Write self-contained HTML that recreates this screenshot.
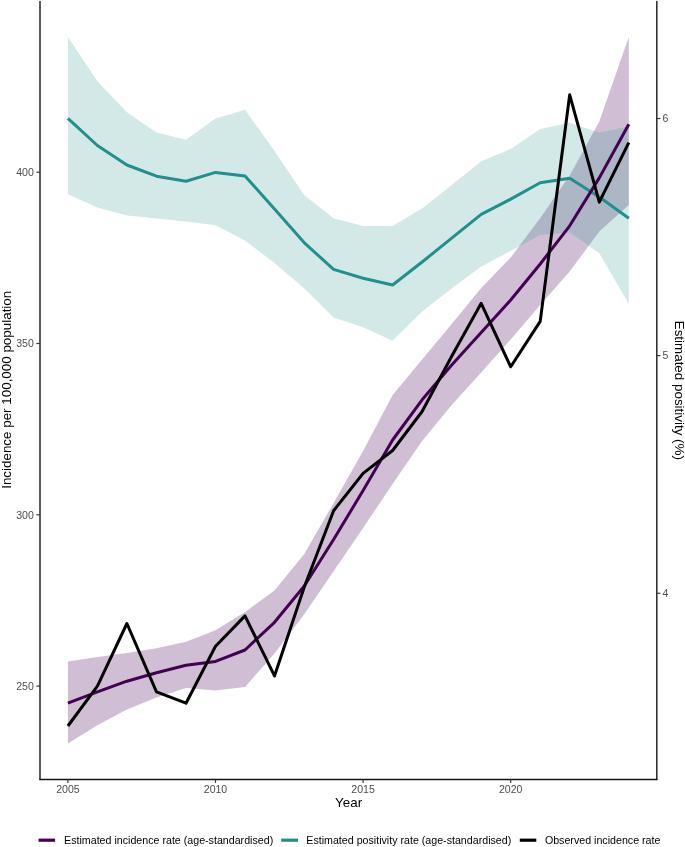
<!DOCTYPE html>
<html><head><meta charset="utf-8"><style>
html,body{margin:0;padding:0;background:#fff;}
body{width:685px;height:847px;overflow:hidden;}
svg{display:block;will-change:transform;}
text{font-family:"Liberation Sans",sans-serif;}
.ax{font-size:10.56px;fill:#4D4D4D;}
.ti{font-size:13.4px;fill:#000;}
.lg{font-size:10.66px;fill:#000;}
</style></head><body>
<svg width="685" height="847" viewBox="0 0 685 847">
<polygon points="67.9,661.4 97.4,656.9 126.9,653.1 156.5,648.2 186.0,641.7 215.5,630.3 245.0,612.1 274.5,590.4 304.1,554.3 333.6,503.0 363.1,451.0 392.6,395.0 422.1,359.5 451.7,324.0 481.2,288.0 510.7,257.5 540.2,218.1 569.7,175.5 599.3,121.5 628.8,37.1 628.8,205.0 599.3,231.5 569.7,271.5 540.2,305.0 510.7,339.5 481.2,372.5 451.7,405.0 422.1,441.0 392.6,484.0 363.1,528.0 333.6,571.3 304.1,614.5 274.5,653.5 245.0,687.0 215.5,690.5 186.0,688.0 156.5,697.5 126.9,709.5 97.4,725.2 67.9,743.5" fill="rgba(68,1,84,0.25)"/>
<polygon points="67.9,36.9 97.4,81.2 126.9,112.3 156.5,132.4 186.0,139.7 215.5,118.4 245.0,109.8 274.5,151.0 304.1,195.0 333.6,218.2 363.1,226.1 392.6,226.1 422.1,208.6 451.7,185.0 481.2,161.2 510.7,149.0 540.2,128.9 569.7,122.8 599.3,132.6 628.8,126.5 628.8,303.9 599.3,253.2 569.7,232.5 540.2,235.1 510.7,251.0 481.2,266.5 451.7,288.5 422.1,311.4 392.6,340.8 363.1,327.3 333.6,317.4 304.1,288.3 274.5,263.0 245.0,240.6 215.5,225.3 186.0,221.5 156.5,218.5 126.9,215.6 97.4,207.4 67.9,194.3" fill="rgba(33,144,140,0.2)"/>
<polyline points="67.9,118.4 97.4,145.5 126.9,165.0 156.5,176.2 186.0,181.2 215.5,172.4 245.0,176.0 274.5,209.0 304.1,242.6 333.6,269.4 363.1,278.3 392.6,285.0 422.1,262.0 451.7,238.2 481.2,214.3 510.7,199.1 540.2,182.7 569.7,178.3 599.3,197.0 628.8,218.2" fill="none" stroke="#21908C" stroke-width="3.0" stroke-linejoin="round" stroke-linecap="butt"/>
<polyline points="67.9,703.2 97.4,691.8 126.9,681.2 156.5,672.8 186.0,665.2 215.5,661.4 245.0,650.0 274.5,622.3 304.1,586.2 333.6,539.5 363.1,490.5 392.6,440.0 422.1,399.8 451.7,365.0 481.2,332.5 510.7,300.0 540.2,264.0 569.7,225.8 599.3,177.9 628.8,124.2" fill="none" stroke="#440154" stroke-width="3.0" stroke-linejoin="round" stroke-linecap="butt"/>
<polyline points="67.9,726.0 97.4,686.1 126.9,623.5 156.5,691.8 186.0,703.2 215.5,646.3 245.0,615.9 274.5,675.9 304.1,587.5 333.6,510.7 363.1,473.4 392.6,450.5 422.1,411.5 451.7,356.2 481.2,303.3 510.7,366.8 540.2,321.4 569.7,94.8 599.3,202.2 628.8,142.6" fill="none" stroke="#000" stroke-width="3.0" stroke-linejoin="round" stroke-linecap="butt"/>
<line x1="40.0" y1="1.5" x2="40.0" y2="779.4" stroke="#333" stroke-width="1.6" stroke-linecap="round"/>
<line x1="656.8" y1="1.5" x2="656.8" y2="779.4" stroke="#333" stroke-width="1.6" stroke-linecap="round"/>
<line x1="40.0" y1="779.4" x2="656.8" y2="779.4" stroke="#151515" stroke-width="1.5" stroke-linecap="round"/>
<line x1="36.4" y1="172.2" x2="40" y2="172.2" stroke="#333" stroke-width="1.15"/>
<text x="33.8" y="176.0" text-anchor="end" class="ax">400</text>
<line x1="36.4" y1="343.5" x2="40" y2="343.5" stroke="#333" stroke-width="1.15"/>
<text x="33.8" y="347.3" text-anchor="end" class="ax">350</text>
<line x1="36.4" y1="514.8" x2="40" y2="514.8" stroke="#333" stroke-width="1.15"/>
<text x="33.8" y="518.6" text-anchor="end" class="ax">300</text>
<line x1="36.4" y1="686.1" x2="40" y2="686.1" stroke="#333" stroke-width="1.15"/>
<text x="33.8" y="689.9" text-anchor="end" class="ax">250</text>
<line x1="656.8" y1="118.5" x2="660.4" y2="118.5" stroke="#333" stroke-width="1.15"/>
<text x="662.6" y="122.3" class="ax">6</text>
<line x1="656.8" y1="355.6" x2="660.4" y2="355.6" stroke="#333" stroke-width="1.15"/>
<text x="662.6" y="359.4" class="ax">5</text>
<line x1="656.8" y1="593.3" x2="660.4" y2="593.3" stroke="#333" stroke-width="1.15"/>
<text x="662.6" y="597.1" class="ax">4</text>
<line x1="67.9" y1="779.4" x2="67.9" y2="782.9" stroke="#333" stroke-width="1.15"/>
<text x="67.9" y="793" text-anchor="middle" class="ax">2005</text>
<line x1="215.5" y1="779.4" x2="215.5" y2="782.9" stroke="#333" stroke-width="1.15"/>
<text x="215.5" y="793" text-anchor="middle" class="ax">2010</text>
<line x1="363.1" y1="779.4" x2="363.1" y2="782.9" stroke="#333" stroke-width="1.15"/>
<text x="363.1" y="793" text-anchor="middle" class="ax">2015</text>
<line x1="510.7" y1="779.4" x2="510.7" y2="782.9" stroke="#333" stroke-width="1.15"/>
<text x="510.7" y="793" text-anchor="middle" class="ax">2020</text>
<text x="348.6" y="807.4" text-anchor="middle" class="ti">Year</text>
<text transform="translate(10.5,389.8) rotate(-90)" text-anchor="middle" class="ti">Incidence per 100,000 population</text>
<text transform="translate(675,390.3) rotate(90)" text-anchor="middle" class="ti">Estimated positivity (%)</text>
<line x1="38.5" y1="840.2" x2="55.1" y2="840.2" stroke="#440154" stroke-width="3.2"/>
<text x="64.1" y="844" class="lg">Estimated incidence rate (age-standardised)</text>
<line x1="281.2" y1="840.2" x2="298" y2="840.2" stroke="#21908C" stroke-width="3.2"/>
<text x="306.3" y="844" class="lg">Estimated positivity rate (age-standardised)</text>
<line x1="519.8" y1="840.2" x2="536.3" y2="840.2" stroke="#000" stroke-width="3.2"/>
<text x="544.9" y="844" class="lg">Observed incidence rate</text>
</svg>
</body></html>
